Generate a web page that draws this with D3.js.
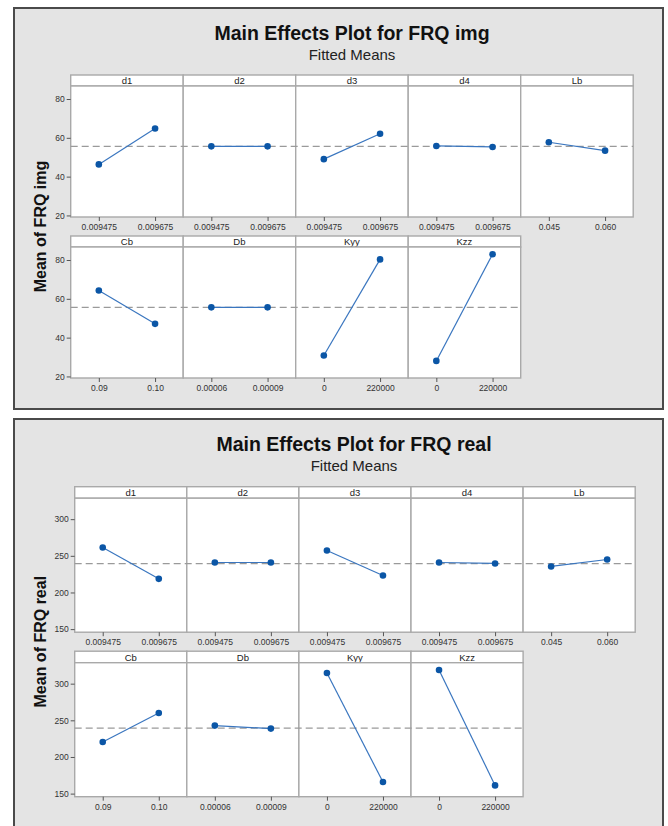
<!DOCTYPE html>
<html>
<head>
<meta charset="utf-8">
<script src="https://cdn.jsdelivr.net/npm/d3@7"></script>
<style>
  body { margin: 0; background: #ffffff; }
  text { font-family: "Liberation Sans", Arial, sans-serif; }
</style>
</head>
<body>
<svg id="chart" width="668" height="826"></svg>
<script>
// Factors and their two levels
const factors = ["d1", "d2", "d3", "d4", "Lb", "Cb", "Db", "Kyy", "Kzz"];
const levelLabels = [
  ["0.009475", "0.009675"],
  ["0.009475", "0.009675"],
  ["0.009475", "0.009675"],
  ["0.009475", "0.009675"],
  ["0.045", "0.060"],
  ["0.09", "0.10"],
  ["0.00006", "0.00009"],
  ["0", "220000"],
  ["0", "220000"]
];

// Fitted means of FRQ img at each level
const imgMeans = [
  [46.3, 64.8], [55.6, 55.6], [49.0, 62.1], [55.8, 55.3], [57.7, 53.4],
  [64.3, 47.1], [55.6, 55.6], [30.8, 80.3], [28.0, 83.0]
];
const imgOverall = 55.6;
const imgTicks = [20, 40, 60, 80];

// Fitted means of FRQ real at each level
const realMeans = [
  [261.3, 218.6], [240.9, 240.9], [257.3, 223.2], [240.9, 239.6], [235.5, 245.0],
  [220.4, 260.0], [242.8, 238.7], [314.5, 165.8], [318.6, 161.2]
];
const realOverall = 239.3;
const realTicks = [150, 200, 250, 300];

const svg = d3.select("#chart");

const GRID = "#a9a9a9";
const BLUE_DOT = "#0b56a6";
const BLUE_LINE = "#3a76bf";
const TICK_FONT = 8.5;

function drawFigure(cfg) {
  const g = svg.append("g");

  // outer frame
  g.append("rect")
    .attr("x", cfg.frame[0]).attr("y", cfg.frame[1])
    .attr("width", cfg.frame[2]).attr("height", cfg.frame[3])
    .attr("fill", "#e4e4e4").attr("stroke", "#4a4a4a").attr("stroke-width", 2);

  g.append("text")
    .attr("x", cfg.cx).attr("y", cfg.titleY)
    .attr("text-anchor", "middle")
    .attr("font-size", 19.5).attr("font-weight", "bold").attr("fill", "#111")
    .text(cfg.title);
  g.append("text")
    .attr("x", cfg.cx).attr("y", cfg.subY)
    .attr("text-anchor", "middle")
    .attr("font-size", 15).attr("fill", "#222")
    .text("Fitted Means");

  const y = d3.scaleLinear().domain(cfg.yDomain).range([cfg.plotH, 0]);
  const nCols = 5;

  const rowTop = r => cfg.top + r * (cfg.stripH + cfg.plotH + cfg.rowGap);

  // panel frames
  factors.forEach((f, i) => {
    const col = i % nCols, row = Math.floor(i / nCols);
    const x0 = cfg.left + col * cfg.colW;
    const st = rowTop(row);
    g.append("rect")
      .attr("x", x0).attr("y", st).attr("width", cfg.colW).attr("height", cfg.stripH)
      .attr("fill", "#fff").attr("stroke", GRID).attr("stroke-width", 1.4);
    g.append("text")
      .attr("x", x0 + cfg.colW / 2).attr("y", st + cfg.stripH - 2.2)
      .attr("text-anchor", "middle").attr("font-size", 9.5).attr("fill", "#222")
      .text(f);
    g.append("rect")
      .attr("x", x0).attr("y", st + cfg.stripH).attr("width", cfg.colW).attr("height", cfg.plotH)
      .attr("fill", "#fff").attr("stroke", GRID).attr("stroke-width", 1.4);
  });

  // overall mean reference line per row
  [0, 1].forEach(row => {
    const n = Math.min(nCols, factors.length - row * nCols);
    const pt = rowTop(row) + cfg.stripH;
    g.append("line")
      .attr("x1", cfg.left).attr("x2", cfg.left + n * cfg.colW)
      .attr("y1", pt + y(cfg.overall)).attr("y2", pt + y(cfg.overall))
      .attr("stroke", "#9a9a9a").attr("stroke-width", 1.2)
      .attr("stroke-dasharray", "7,4");

    // y axis
    const ay = g.append("g")
      .attr("transform", `translate(${cfg.left},${pt})`)
      .call(d3.axisLeft(y).tickValues(cfg.ticks).tickSize(4).tickSizeOuter(0).tickPadding(2));
    ay.select(".domain").remove();
    ay.selectAll("line").attr("stroke", "#555");
    ay.selectAll("text").attr("font-size", TICK_FONT).attr("fill", "#333")
      .attr("font-family", "Liberation Sans, Arial, sans-serif");
  });

  // mean lines and points
  factors.forEach((f, i) => {
    const col = i % nCols, row = Math.floor(i / nCols);
    const x0 = cfg.left + col * cfg.colW;
    const pt = rowTop(row) + cfg.stripH;
    const x = d3.scalePoint().domain(levelLabels[i]).range([0, cfg.colW]).padding(0.5);
    const pg = g.append("g").attr("transform", `translate(${x0},${pt})`);
    const pts = levelLabels[i].map((l, k) => ({ l, v: cfg.means[i][k] }));

    pg.append("path")
      .datum(pts)
      .attr("d", d3.line().x(d => x(d.l)).y(d => y(d.v)))
      .attr("fill", "none").attr("stroke", BLUE_LINE).attr("stroke-width", 1.2);
    pg.selectAll("circle").data(pts).join("circle")
      .attr("cx", d => x(d.l)).attr("cy", d => y(d.v)).attr("r", 3.3)
      .attr("fill", BLUE_DOT);

    const ax = pg.append("g")
      .attr("transform", `translate(0,${cfg.plotH})`)
      .call(d3.axisBottom(x).tickSize(4).tickSizeOuter(0).tickPadding(3));
    ax.select(".domain").remove();
    ax.selectAll("line").attr("stroke", "#555");
    ax.selectAll("text").attr("font-size", TICK_FONT).attr("fill", "#333")
      .attr("font-family", "Liberation Sans, Arial, sans-serif");
  });

  // y axis title
  const midY = (rowTop(0) + rowTop(1) + cfg.stripH + cfg.plotH) / 2;
  g.append("text")
    .attr("transform", `translate(${cfg.yTitleX},${midY}) rotate(-90)`)
    .attr("text-anchor", "middle")
    .attr("font-size", 16).attr("font-weight", "bold").attr("fill", "#111")
    .text(cfg.yTitle);
}

drawFigure({
  frame: [14, 8, 649, 401],
  cx: 352, titleY: 40, subY: 60,
  title: "Main Effects Plot for FRQ img",
  yTitle: "Mean of FRQ img", yTitleX: 46,
  left: 70.7, colW: 112.5, top: 75, stripH: 11, plotH: 131, rowGap: 19,
  yDomain: [19.2, 86.7], ticks: imgTicks,
  means: imgMeans, overall: imgOverall
});

drawFigure({
  frame: [14, 419, 649, 420],
  cx: 354, titleY: 451, subY: 471,
  title: "Main Effects Plot for FRQ real",
  yTitle: "Mean of FRQ real", yTitleX: 46,
  left: 74.7, colW: 112.1, top: 486.7, stripH: 11.5, plotH: 134, rowGap: 19,
  yDomain: [145.8, 328.6], ticks: realTicks,
  means: realMeans, overall: realOverall
});
</script>
</body>
</html>
